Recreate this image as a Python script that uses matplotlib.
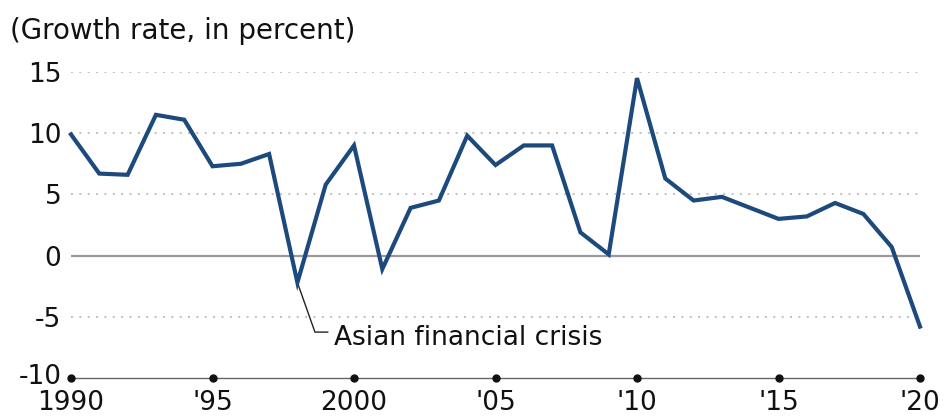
import matplotlib
matplotlib.use("Agg")
import matplotlib.pyplot as plt
import matplotlib.transforms as mtransforms

years = list(range(1990, 2021))
growth = [9.9, 6.7, 6.6, 11.5, 11.1, 7.3, 7.5, 8.3, -2.2, 5.8,
          9.0, -1.1, 3.9, 4.5, 9.8, 7.4, 9.0, 9.0, 1.9, 0.1,
          14.5, 6.3, 4.5, 4.8, 3.9, 3.0, 3.2, 4.3, 3.4, 0.7, -5.8]

x_ticks = [1990, 1995, 2000, 2005, 2010, 2015, 2020]
x_labels = ["1990", "'95", "2000", "'05", "'10", "'15", "'20"]
y_ticks = [-10, -5, 0, 5, 10, 15]
y_labels = ["-10", "-5", "0", "5", "10", "15"]
title = "(Growth rate, in percent)"
note = "Asian financial crisis"
note_year = 1998
note_elbow = (1998.62, -6.25)
note_text_pos = (1999.3, -6.7)

plt.rcParams['font.family'] = ['DejaVu Sans']
FS = 19

fig = plt.figure(figsize=(9.44, 4.16), dpi=100)
ax = fig.add_axes([71/944, 1-378/416, (920-71)/944, (378-72)/416])
ax.set_xlim(1990, 2020)
ax.set_ylim(-10, 15)

# grid lines
for yv in y_ticks:
    if yv == y_ticks[0]:
        continue
    if yv == 0:
        ax.axhline(0, color='#9a9a9a', lw=1.6, zorder=1)
    else:
        ax.axhline(yv, color='#c0c0c0', lw=1.4, linestyle=(0, (1, 3.3)), zorder=1)

# bottom axis as dashed line with dots
for s in ['top', 'right', 'left']:
    ax.spines[s].set_visible(False)
ax.spines['bottom'].set_color('#666666')
ax.spines['bottom'].set_linewidth(1.0)
ax.spines['bottom'].set_linestyle((0, (2, 1)))
ax.plot(x_ticks, [y_ticks[0]] * len(x_ticks), 'o', ms=5, color='#111111',
        clip_on=False, zorder=5)

ax.plot(years, growth, color='#1d4a7c', lw=3.0, clip_on=False, zorder=4,
        solid_joinstyle='miter')

# annotation
idx = years.index(note_year)
ax.plot([note_year, note_elbow[0], note_elbow[0] + 0.45],
        [growth[idx], note_elbow[1], note_elbow[1]],
        color='#222222', lw=1.0, zorder=3)
ax.text(note_text_pos[0], note_text_pos[1], note, fontsize=FS, va='center',
        ha='left', color='#111111')

ax.set_xticks(x_ticks)
ax.set_xticklabels(x_labels, fontsize=FS)
ax.set_yticks(y_ticks)
ax.set_yticklabels(y_labels, fontsize=FS)
ax.tick_params(axis='both', length=0, colors='#111111')
ax.tick_params(axis='x', pad=9)
ax.tick_params(axis='y', pad=7)

# nudge the bottom y label up slightly so it clears the x labels
lbl = ax.get_yticklabels()[0]
lbl.set_transform(lbl.get_transform() +
                  mtransforms.ScaledTranslation(0, 4/100, fig.dpi_scale_trans))

fig.text(10/944, 1-31/416, title, fontsize=20, va='center', ha='left', color='#111111')

fig.savefig('out.png', dpi=100, facecolor='white')
